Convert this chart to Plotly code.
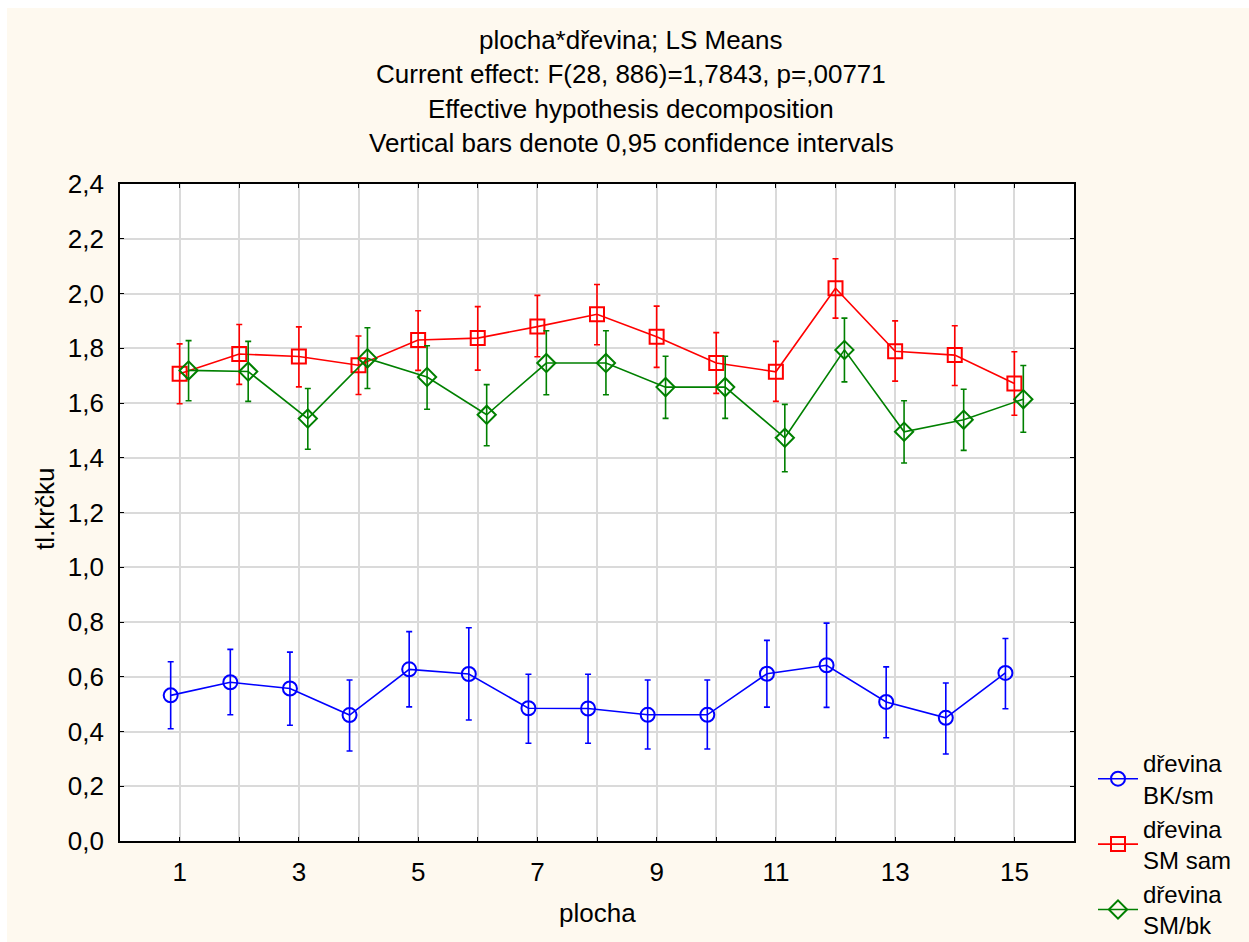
import numpy as np
import plotly.graph_objects as go

# ---------------- data ----------------
plocha = list(range(1, 16))

bk_mean = [0.532, 0.580, 0.557, 0.460, 0.627, 0.610, 0.485, 0.484, 0.461, 0.461, 0.611, 0.642, 0.508, 0.450, 0.614]
bk_hi   = [0.655, 0.700, 0.690, 0.588, 0.765, 0.779, 0.609, 0.609, 0.588, 0.588, 0.733, 0.796, 0.636, 0.577, 0.740]
bk_lo   = [0.410, 0.461, 0.423, 0.329, 0.490, 0.442, 0.357, 0.357, 0.336, 0.336, 0.489, 0.488, 0.377, 0.318, 0.483]

sm_mean = [1.707, 1.779, 1.770, 1.738, 1.830, 1.837, 1.879, 1.924, 1.842, 1.746, 1.714, 2.019, 1.789, 1.775, 1.671]
sm_hi   = [1.816, 1.887, 1.878, 1.845, 1.937, 1.952, 1.993, 2.033, 1.954, 1.857, 1.825, 2.127, 1.900, 1.882, 1.787]
sm_lo   = [1.597, 1.668, 1.659, 1.631, 1.719, 1.720, 1.769, 1.813, 1.730, 1.635, 1.606, 1.910, 1.680, 1.664, 1.555]

smbk_mean = [1.719, 1.715, 1.543, 1.763, 1.695, 1.557, 1.746, 1.746, 1.658, 1.658, 1.473, 1.794, 1.495, 1.539, 1.614]
smbk_hi   = [1.828, 1.825, 1.653, 1.875, 1.809, 1.667, 1.864, 1.864, 1.771, 1.771, 1.595, 1.910, 1.608, 1.650, 1.737]
smbk_lo   = [1.608, 1.606, 1.431, 1.653, 1.577, 1.444, 1.630, 1.630, 1.544, 1.544, 1.349, 1.677, 1.381, 1.427, 1.493]

series_names = ["dřevina<br>BK/sm", "dřevina<br>SM sam", "dřevina<br>SM/bk"]

y_tickvals = [0.0, 0.2, 0.4, 0.6, 0.8, 1.0, 1.2, 1.4, 1.6, 1.8, 2.0, 2.2, 2.4]
y_ticktext = ["0,0", "0,2", "0,4", "0,6", "0,8", "1,0", "1,2", "1,4", "1,6", "1,8", "2,0", "2,2", "2,4"]
x_tickvals = list(range(0, 17))
x_ticktext = [str(v) if v % 2 == 1 and v <= 15 else "" for v in x_tickvals]

title_lines = [
    "plocha*dřevina; LS Means",
    "Current effect: F(28, 886)=1,7843, p=,00771",
    "Effective hypothesis decomposition",
    "Vertical bars denote 0,95 confidence intervals",
]
x_title = "plocha"
y_title = "tl.krčku"

# ---------------- figure ----------------
FONT = "Liberation Sans, Arial, sans-serif"
CREAM = "#FEF9EF"
FS = 26

# plot area in pixels
L, R, T, B = 120, 1074, 184, 841
W, H = 1249, 942
PW, PH = R - L, B - T


def px(xp):
    return (xp - L) / PW


def py(yp):
    return (B - yp) / PH


styles = [
    dict(color="#0000FF", symbol="circle-open", offset=-0.15),
    dict(color="#FF0000", symbol="square-open", offset=0.0),
    dict(color="#008000", symbol="diamond-open", offset=0.15),
]
data = [(bk_mean, bk_hi, bk_lo), (sm_mean, sm_hi, sm_lo), (smbk_mean, smbk_hi, smbk_lo)]

fig = go.Figure()
for name, st, (m, hi, lo) in zip(series_names, styles, data):
    m = np.array(m); hi = np.array(hi); lo = np.array(lo)
    fig.add_trace(go.Scatter(
        x=np.array(plocha) + st["offset"], y=m,
        mode="lines+markers", name=name,
        line=dict(color=st["color"], width=1.6),
        marker=dict(symbol=st["symbol"], size=14, color=st["color"],
                    line=dict(color=st["color"], width=2)),
        error_y=dict(type="data", symmetric=False, array=hi - m, arrayminus=m - lo,
                     color=st["color"], thickness=1.6, width=3),
    ))

fig.update_layout(
    width=W, height=H,
    margin=dict(l=L, r=W - R, t=T, b=H - B, autoexpand=False),
    paper_bgcolor=CREAM, plot_bgcolor="white",
    font=dict(family=FONT, size=FS, color="black"),
    showlegend=True,
    legend=dict(x=px(1093), y=py(741), xanchor="left", yanchor="top",
                bgcolor="rgba(0,0,0,0)", font=dict(size=24),
                itemwidth=40, tracegroupgap=0),
)

fig.update_xaxes(
    range=[0, 16], tickvals=x_tickvals, ticktext=x_ticktext,
    showgrid=True, gridcolor="#DADADA", gridwidth=1.6,
    showline=True, linecolor="black", linewidth=1.6, mirror="ticks",
    ticks="inside", ticklen=4, tickcolor="black", tickwidth=1.2,
    ticklabelstandoff=7, zeroline=False, tickfont=dict(size=FS),
)
fig.update_yaxes(
    range=[0, 2.4], tickvals=y_tickvals, ticktext=y_ticktext,
    showgrid=True, gridcolor="#DADADA", gridwidth=1.6,
    showline=True, linecolor="black", linewidth=1.6, mirror="ticks",
    ticks="inside", ticklen=4, tickcolor="black", tickwidth=1.2,
    ticklabelstandoff=9, zeroline=False, tickfont=dict(size=FS),
)

# title as stacked annotation lines
for i, line in enumerate(title_lines):
    fig.add_annotation(
        text=line, xref="paper", yref="paper",
        x=px(631), y=py(40 + 34.3 * i),
        xanchor="center", yanchor="middle", showarrow=False,
        font=dict(size=FS, family=FONT, color="black"),
    )

# axis titles
fig.add_annotation(text=x_title, xref="paper", yref="paper", x=px(597), y=py(913),
                   xanchor="center", yanchor="middle", showarrow=False,
                   font=dict(size=FS, family=FONT, color="black"))
fig.add_annotation(text=y_title, xref="paper", yref="paper", x=px(45), y=py(509),
                   xanchor="center", yanchor="middle", showarrow=False, textangle=-90,
                   font=dict(size=FS, family=FONT, color="black"))

# thin white frame strips at top and left of the image
fig.add_shape(type="rect", xref="paper", yref="paper",
              x0=px(-5), x1=px(W + 5), y0=py(8), y1=py(-5),
              fillcolor="white", line=dict(width=0), layer="above")
fig.add_shape(type="rect", xref="paper", yref="paper",
              x0=px(-5), x1=px(7), y0=py(H + 5), y1=py(-5),
              fillcolor="white", line=dict(width=0), layer="above")

fig.write_html("out.html",
               config={"displayModeBar": False},
               post_script="document.body.style.margin='0';document.body.style.overflow='hidden';")
